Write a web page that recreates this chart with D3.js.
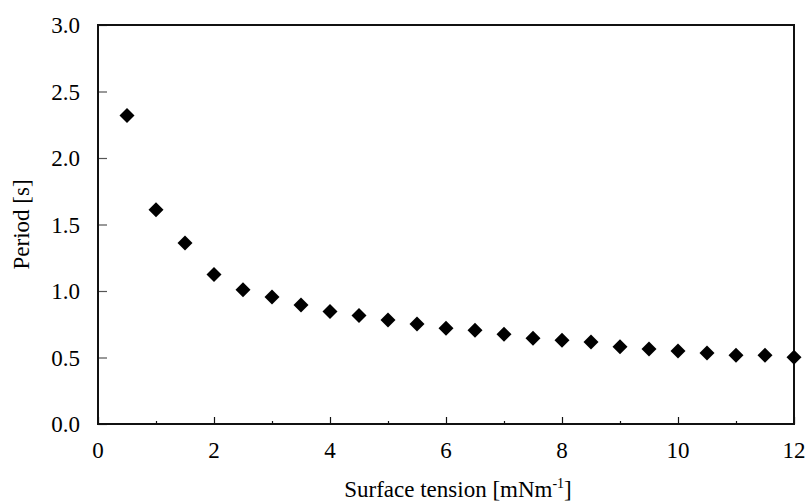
<!DOCTYPE html>
<html>
<head>
<meta charset="utf-8">
<script src="https://cdn.jsdelivr.net/npm/d3@7"></script>
<style>
    body { margin: 0; background: #fff; }
    svg text { font-family: 'Liberation Serif', 'Times New Roman', Times, serif; }
</style>
</head>
<body>
<div id="chart"></div>
<script>
// Period vs surface tension, scatter with diamond markers

const tension = [0.5, 1, 1.5, 2, 2.5, 3, 3.5, 4, 4.5, 5, 5.5, 6, 6.5, 7, 7.5, 8, 8.5, 9, 9.5, 10, 10.5, 11, 11.5, 12];
const period = [2.32, 1.61, 1.36, 1.125, 1.01, 0.955, 0.895, 0.845, 0.815, 0.782, 0.752, 0.72, 0.704, 0.674, 0.644, 0.629, 0.617, 0.581, 0.564, 0.549, 0.534, 0.517, 0.517, 0.501];
const xTicks = [0, 2, 4, 6, 8, 10, 12];
const xMinorTicks = [1, 3, 5, 7, 9, 11];
const yTicks = [0, 0.5, 1.0, 1.5, 2.0, 2.5, 3.0];

const width = 807, height = 504;
const margin = { top: 25, right: 13, bottom: 80, left: 98 };
const serif = "'Liberation Serif', 'Times New Roman', Times, serif";

const svg = d3.select('#chart')
    .append('svg')
    .attr('width', width)
    .attr('height', height);

const x = d3.scaleLinear()
    .domain([0, 12])
    .range([margin.left, width - margin.right]);

const y = d3.scaleLinear()
    .domain([0, 3])
    .range([height - margin.bottom, margin.top]);

const axisColor = '#111';

// inner ticks
svg.append('g')
    .attr('transform', `translate(0,${y(0)})`)
    .call(d3.axisBottom(x).tickValues(xTicks).tickSize(-7).tickFormat(''))
    .call(g => g.select('.domain').remove())
    .call(g => g.selectAll('line').attr('stroke', axisColor).attr('stroke-width', 1.2));

svg.append('g')
    .attr('transform', `translate(0,${y(0)})`)
    .call(d3.axisBottom(x).tickValues(xMinorTicks).tickSize(-3).tickFormat(''))
    .call(g => g.select('.domain').remove())
    .call(g => g.selectAll('line').attr('stroke', axisColor).attr('stroke-width', 1.2));

svg.append('g')
    .attr('transform', `translate(${x(0)},0)`)
    .call(d3.axisLeft(y).tickValues(yTicks).tickSize(-9).tickFormat(''))
    .call(g => g.select('.domain').remove())
    .call(g => g.selectAll('line').attr('stroke', '#555').attr('stroke-width', 1.2));

// tick labels
svg.append('g')
    .selectAll('text')
    .data(xTicks)
    .join('text')
    .attr('x', d => x(d))
    .attr('y', y(0) + 34)
    .attr('text-anchor', 'middle')
    .attr('font-family', serif)
    .attr('font-size', '23px')
    .attr('fill', '#000')
    .text(d => d);

svg.append('g')
    .selectAll('text')
    .data(yTicks)
    .join('text')
    .attr('x', x(0) - 18)
    .attr('y', d => y(d) + 8)
    .attr('text-anchor', 'end')
    .attr('font-family', serif)
    .attr('font-size', '23px')
    .attr('fill', '#000')
    .text(d => d.toFixed(1));

// plot frame
svg.append('rect')
    .attr('x', x(0))
    .attr('y', y(3))
    .attr('width', x(12) - x(0))
    .attr('height', y(0) - y(3))
    .attr('fill', 'none')
    .attr('stroke', axisColor)
    .attr('stroke-width', 2);

// markers
svg.append('g')
    .selectAll('path')
    .data(tension.map((t, i) => ({ t, p: period[i] })))
    .join('path')
    .attr('transform', d => `translate(${x(d.t)},${y(d.p)})`)
    .attr('d', 'M0,-7.5L7.5,0L0,7.5L-7.5,0Z')
    .attr('fill', '#000');

// axis titles
const xTitle = svg.append('text')
    .attr('x', (x(0) + x(12)) / 2 + 12)
    .attr('y', 497)
    .attr('text-anchor', 'middle')
    .attr('font-family', serif)
    .attr('font-size', '23px')
    .attr('fill', '#000');
xTitle.append('tspan').text('Surface tension [mNm');
xTitle.append('tspan').attr('dy', -9).attr('font-size', '14px').text('-1');
xTitle.append('tspan').attr('dy', 9).text(']');

svg.append('text')
    .attr('transform', `translate(29,${(y(0) + y(3)) / 2}) rotate(-90)`)
    .attr('text-anchor', 'middle')
    .attr('font-family', serif)
    .attr('font-size', '23px')
    .attr('fill', '#000')
    .text('Period [s]');
</script>
</body>
</html>
